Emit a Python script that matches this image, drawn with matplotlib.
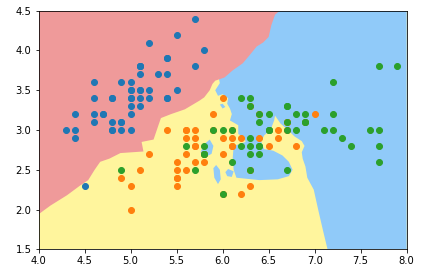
import numpy as np
import matplotlib
matplotlib.use('Agg')
import matplotlib.pyplot as plt

# iris, sepal length / sepal width
setosa_x = [5.1, 4.9, 4.7, 4.6, 5.0, 5.4, 4.6, 5.0, 4.4, 4.9, 5.4, 4.8, 4.8, 4.3, 5.8, 5.7, 5.4, 5.1, 5.7, 5.1,
            5.4, 5.1, 4.6, 5.1, 4.8, 5.0, 5.0, 5.2, 5.2, 4.7, 4.8, 5.4, 5.2, 5.5, 4.9, 5.0, 5.5, 4.9, 4.4, 5.1,
            5.0, 4.5, 4.4, 5.0, 5.1, 4.8, 5.1, 4.6, 5.3, 5.0]
setosa_y = [3.5, 3.0, 3.2, 3.1, 3.6, 3.9, 3.4, 3.4, 2.9, 3.1, 3.7, 3.4, 3.0, 3.0, 4.0, 4.4, 3.9, 3.5, 3.8, 3.8,
            3.4, 3.7, 3.6, 3.3, 3.4, 3.0, 3.4, 3.5, 3.4, 3.2, 3.1, 3.4, 4.1, 4.2, 3.1, 3.2, 3.5, 3.6, 3.0, 3.4,
            3.5, 2.3, 3.2, 3.5, 3.8, 3.0, 3.8, 3.2, 3.7, 3.3]
versicolor_x = [7.0, 6.4, 6.9, 5.5, 6.5, 5.7, 6.3, 4.9, 6.6, 5.2, 5.0, 5.9, 6.0, 6.1, 5.6, 6.7, 5.6, 5.8, 6.2, 5.6,
                5.9, 6.1, 6.3, 6.1, 6.4, 6.6, 6.8, 6.7, 6.0, 5.7, 5.5, 5.5, 5.8, 6.0, 5.4, 6.0, 6.7, 6.3, 5.6, 5.5,
                5.5, 6.1, 5.8, 5.0, 5.6, 5.7, 5.7, 6.2, 5.1, 5.7]
versicolor_y = [3.2, 3.2, 3.1, 2.3, 2.8, 2.8, 3.3, 2.4, 2.9, 2.7, 2.0, 3.0, 2.2, 2.9, 2.9, 3.1, 3.0, 2.7, 2.2, 2.5,
                3.2, 2.8, 2.5, 2.8, 2.9, 3.0, 2.8, 3.0, 2.9, 2.6, 2.4, 2.4, 2.7, 2.7, 3.0, 3.4, 3.1, 2.3, 3.0, 2.5,
                2.6, 3.0, 2.6, 2.3, 2.7, 3.0, 2.9, 2.9, 2.5, 2.8]
virginica_x = [6.3, 5.8, 7.1, 6.3, 6.5, 7.6, 4.9, 7.3, 6.7, 7.2, 6.5, 6.4, 6.8, 5.7, 5.8, 6.4, 6.5, 7.7, 7.7, 6.0,
               6.9, 5.6, 7.7, 6.3, 6.7, 7.2, 6.2, 6.1, 6.4, 7.2, 7.4, 7.9, 6.4, 6.3, 6.1, 7.7, 6.3, 6.4, 6.0, 6.9,
               6.7, 6.9, 5.8, 6.8, 6.7, 6.7, 6.3, 6.5, 6.2, 5.9]
virginica_y = [3.3, 2.7, 3.0, 2.9, 3.0, 3.0, 2.5, 2.9, 2.5, 3.6, 3.2, 2.7, 3.0, 2.5, 2.8, 3.2, 3.0, 3.8, 2.6, 2.2,
               3.2, 2.8, 2.8, 2.7, 3.3, 3.2, 2.8, 3.0, 2.8, 3.0, 2.8, 3.8, 2.8, 2.8, 2.6, 3.0, 3.4, 3.1, 3.0, 3.1,
               3.1, 3.1, 2.7, 3.2, 3.3, 3.0, 2.5, 3.0, 3.4, 3.0]

# decision regions (sepal length, sepal width)
setosa_region = [(4.0, 4.5), (6.62, 4.5), (6.57, 4.45), (6.53, 4.32), (6.50, 4.17), (6.44, 4.10), (6.37, 4.05),
                 (6.30, 3.95), (6.22, 3.84), (6.11, 3.75), (6.02, 3.66), (5.92, 3.62), (5.89, 3.58), (5.86, 3.50),
                 (5.80, 3.41), (5.75, 3.37), (5.59, 3.26), (5.44, 3.20), (5.33, 3.15), (5.30, 3.05), (5.25, 2.88),
                 (5.12, 2.85), (5.14, 2.73), (4.89, 2.71), (4.77, 2.64), (4.67, 2.60), (4.61, 2.50), (4.54, 2.37),
                 (4.45, 2.30), (4.31, 2.18), (4.13, 2.05), (4.0, 1.94)]
virginica_region = [(5.95, 3.70), (5.97, 3.59), (5.92, 3.50), (5.95, 3.43), (6.00, 3.45), (6.06, 3.40),
                    (6.05, 3.33), (6.08, 3.27), (6.10, 3.20), (6.08, 3.12), (6.17, 3.06), (6.17, 2.95),
                    (6.24, 2.90), (6.25, 2.85), (6.18, 2.82), (6.12, 2.80), (6.11, 2.65), (6.12, 2.50),
                    (6.15, 2.40), (6.40, 2.37), (6.60, 2.38), (6.72, 2.42), (6.76, 2.50), (6.72, 2.60),
                    (6.65, 2.68), (6.55, 2.74), (6.45, 2.76), (6.42, 2.85), (6.45, 2.93), (6.52, 3.00),
                    (6.56, 3.12), (6.57, 3.18), (6.63, 3.08), (6.71, 3.00), (6.78, 2.92), (6.86, 2.86),
                    (6.89, 2.80), (6.86, 2.72), (6.87, 2.64), (6.90, 2.54), (6.92, 2.40), (6.99, 2.25),
                    (7.04, 1.99), (7.09, 1.74), (7.14, 1.5), (8.0, 1.5), (8.0, 4.5), (5.95, 4.5)]
virginica_islands = [
    [(5.76, 2.72), (5.80, 2.82), (5.86, 2.88), (5.90, 2.80), (5.88, 2.70), (5.81, 2.66)],
    [(5.90, 2.52), (5.93, 2.56), (5.97, 2.50), (5.98, 2.38), (5.95, 2.32), (5.91, 2.40)],
    [(6.03, 2.47), (6.06, 2.51), (6.12, 2.48), (6.10, 2.41), (6.05, 2.42)],
    [(5.97, 3.32), (6.00, 3.33), (6.03, 3.29), (6.00, 3.27)],
]

region_colors = ['#EF9A9A', '#FFF59D', '#90CAF9']

fig = plt.figure(figsize=(435 / 72, 277 / 72), dpi=72)
ax = fig.add_axes([38.5 / 435, 1 - 249.3 / 277, 368.2 / 435, 238.6 / 277])
ax.set_facecolor(region_colors[1])
ax.fill(*zip(*virginica_region), color=region_colors[2], lw=0)
for isl in virginica_islands:
    ax.fill(*zip(*isl), color=region_colors[2], lw=0)
ax.fill(*zip(*setosa_region), color=region_colors[0], lw=0)

ax.scatter(setosa_x, setosa_y, c='C0')
ax.scatter(versicolor_x, versicolor_y, c='C1')
ax.scatter(virginica_x, virginica_y, c='C2')
ax.set_xlim(4.0, 8.0)
ax.set_ylim(1.5, 4.5)

fig.savefig('out.png', dpi=72)
